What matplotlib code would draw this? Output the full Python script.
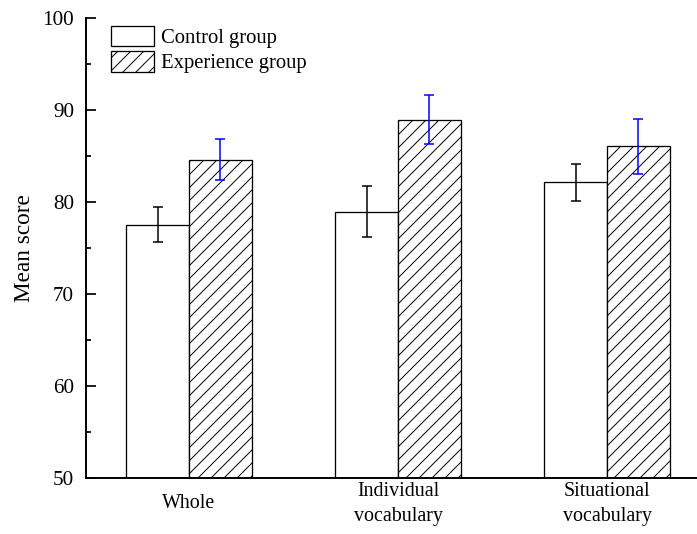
import numpy as np
import matplotlib
matplotlib.use('Agg')
import matplotlib.pyplot as plt
from matplotlib.ticker import MultipleLocator

plt.rcParams['font.family'] = ['Liberation Serif', 'DejaVu Serif']
plt.rcParams['hatch.linewidth'] = 0.9

categories = ['Whole', 'Individual\nvocabulary', 'Situational\nvocabulary']
control_mean = [77.55, 78.95, 82.15]
control_err = [1.95, 2.75, 2.0]
exp_mean = [84.6, 88.95, 86.05]
exp_err = [2.2, 2.7, 3.0]

DPI = 78
fig = plt.figure(figsize=(697 / DPI, 534 / DPI), dpi=DPI)
ax = fig.add_axes([86 / 697, 56 / 534, 611 / 697, 460 / 534])

x = np.arange(len(categories))
w = 0.3
ax.bar(x - w / 2, control_mean, w, color='white', edgecolor='black', linewidth=1.2,
       label='Control group', zorder=2)
ax.bar(x + w / 2, exp_mean, w, color='white', edgecolor='black', linewidth=1.2,
       hatch='//', label='Experience group', zorder=2)
ax.errorbar(x - w / 2, control_mean, yerr=control_err, fmt='none', ecolor='black',
            elinewidth=1.4, capsize=4.3, capthick=1.4, zorder=3)
ax.errorbar(x + w / 2, exp_mean, yerr=exp_err, fmt='none', ecolor='#0000ff',
            elinewidth=1.4, capsize=4.3, capthick=1.4, zorder=3)

ax.set_xlim(-0.493, 2.43)
ax.set_ylim(50, 100)
ax.yaxis.set_major_locator(MultipleLocator(10))
ax.yaxis.set_minor_locator(MultipleLocator(5))
ax.tick_params(axis='y', which='major', direction='in', length=9, width=1.6,
               labelsize=19.5, pad=11)
ax.tick_params(axis='y', which='minor', direction='in', length=5, width=1.6)
ax.set_xticks(x)
ax.set_xticklabels(categories, fontsize=18.5, linespacing=1.4)
ax.tick_params(axis='x', length=0, pad=24)
for lbl in ax.get_xticklabels():
    lbl.set_verticalalignment('center')

for s in ['top', 'right']:
    ax.spines[s].set_visible(False)
for s in ['left', 'bottom']:
    ax.spines[s].set_linewidth(1.8)

ax.set_ylabel('Mean score', fontsize=21.5)
ax.yaxis.set_label_coords(-0.084, 0.5)

ax.legend(loc='upper left', bbox_to_anchor=(0.041, 0.983), frameon=False,
          fontsize=19, borderpad=0, borderaxespad=0, handlelength=2.1,
          handleheight=1.15, labelspacing=0.15, handletextpad=0.35)

fig.savefig('out.png', dpi=DPI)
